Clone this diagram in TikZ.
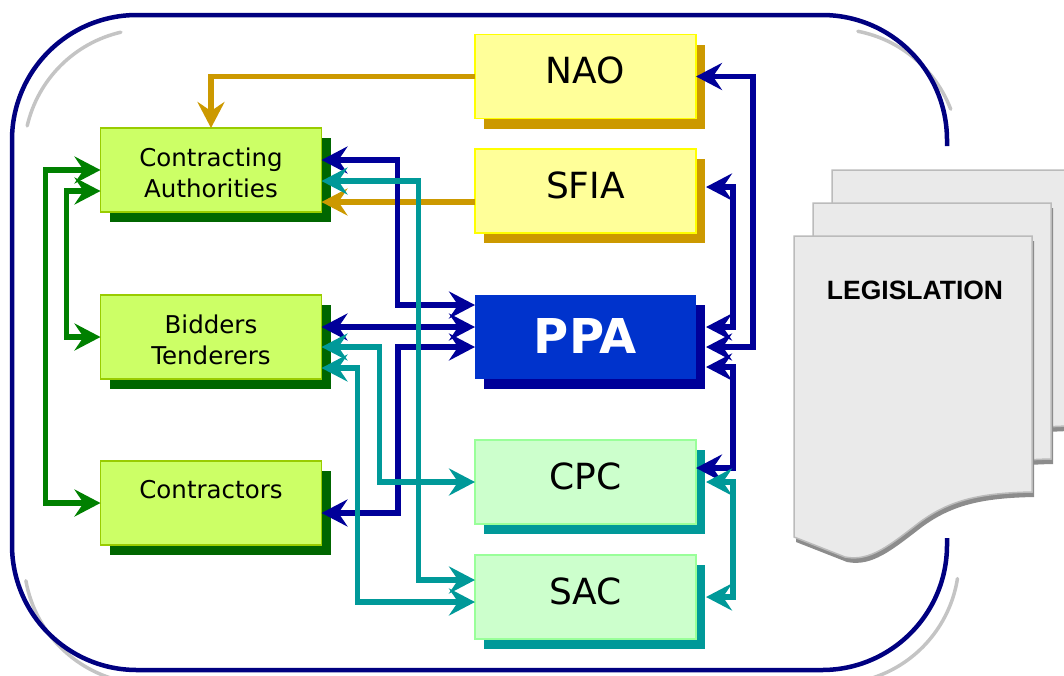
\documentclass[tikz,border=0pt]{standalone}
\usepackage{fontspec}
\setmainfont{DejaVu Sans}
\newfontfamily\legfont{Liberation Sans}
\usetikzlibrary{arrows.meta,shadows}

\definecolor{frameblue}{HTML}{000080}
\definecolor{shadegray}{HTML}{C4C4C4}
\definecolor{linkblue}{HTML}{000099}
\definecolor{linkteal}{HTML}{009999}
\definecolor{linkgold}{HTML}{CC9900}
\definecolor{linkgreen}{HTML}{008000}
\definecolor{partyfill}{HTML}{CCFF66}
\definecolor{partyedge}{HTML}{99CC00}
\definecolor{partyshade}{HTML}{006600}
\definecolor{auditfill}{HTML}{FFFF99}
\definecolor{auditedge}{HTML}{FFFF00}
\definecolor{auditshade}{HTML}{CC9900}
\definecolor{ppafill}{HTML}{0033CC}
\definecolor{ppashade}{HTML}{000099}
\definecolor{reviewfill}{HTML}{CCFFCC}
\definecolor{reviewedge}{HTML}{99FF99}
\definecolor{reviewshade}{HTML}{009999}
\definecolor{pagefill}{HTML}{EAEAEA}
\definecolor{pageedge}{HTML}{BBBBBB}
\definecolor{pageshade}{HTML}{8C8C8C}

\tikzset{
  frameline/.style={draw=frameblue, line width=4.5pt},
  frameshade/.style={draw=shadegray, line width=3.5pt, line cap=round},
  box/.style={rectangle, minimum width=221pt, minimum height=84pt,
    inner sep=0pt, outer sep=0pt, line width=1.5pt},
  boxshadow/.style={drop shadow={shadow xshift=9pt, shadow yshift=-10pt,
    fill=#1, opacity=1}},
  party/.style={box, fill=partyfill, draw=partyedge, boxshadow=partyshade},
  audit/.style={box, fill=auditfill, draw=auditedge, boxshadow=auditshade},
  agency/.style={box, fill=ppafill, boxshadow=ppashade},
  review/.style={box, fill=reviewfill, draw=reviewedge, boxshadow=reviewshade},
  smalltxt/.style={align=center, inner sep=0pt, font=\fontsize{24.5}{31}\selectfont},
  bigtxt/.style={inner sep=0pt, font=\fontsize{36}{40}\selectfont},
  ppatxt/.style={inner sep=0pt, text=white, font=\bfseries\fontsize{48}{52}\selectfont},
  legtxt/.style={inner sep=0pt, font=\legfont\bfseries\fontsize{26.5}{30}\selectfont},
  link/.style={line width=5.5pt},
  blue link/.style={link, draw=linkblue},
  teal link/.style={link, draw=linkteal},
  gold link/.style={link, draw=linkgold},
  green link/.style={link, draw=linkgreen},
  pagebody/.style={fill=pagefill, draw=pageedge, line width=1.5pt},
  sheet/.pic={
    \fill[pageshade, shift={(2,5)}] (794,236) -- (1032,236) -- (1032,492)
      .. controls (980,493) and (950,500) .. (920,522)
      .. controls (890,545) and (870,562) .. (845,557) -- (794,537) -- cycle;
    \filldraw[pagebody] (794,236) -- (1032,236) -- (1032,492)
      .. controls (980,493) and (950,500) .. (920,522)
      .. controls (890,545) and (870,562) .. (845,557) -- (794,537) -- cycle;
  }
}

\begin{document}
\begin{tikzpicture}[x=1pt, y=-1pt,
  >={Stealth[length=26pt, width=27pt, inset=9pt]}]
\useasboundingbox (0,0) rectangle (1064,675);
\clip (0,0) rectangle (1064,675);

% soft grey shadow of the rounded frame, visible at its corners
\draw[frameshade] (149,154) ++(-103:125) arc[start angle=-103, end angle=-167, radius=125];
\draw[frameshade] (834,154) ++(-79:125) arc[start angle=-79, end angle=-21, radius=125];
\draw[frameshade] (834,559) ++(9:125) arc[start angle=9, end angle=100, radius=125];
\draw[frameshade] (149,559) ++(170:125) arc[start angle=170, end angle=95, radius=125];

% rounded frame, open on the right where the legislation stack sits
\draw[frameline, rounded corners=125pt]
  (947,146) -- (947,15) -- (12,15) -- (12,670) -- (947,670) -- (947,538);

% stack of legislation sheets, back to front
\pic at (38,-66) {sheet};
\pic at (19,-33) {sheet};
\pic at (0,0) {sheet};
\node[legtxt] (leg) at (915,290) {LEGISLATION};

% parties
\node[party] (ca) at (211,170) {};
\node[party] (bt) at (211,337) {};
\node[party] (co) at (211,503) {};
\node[smalltxt] (ca-t) at ([yshift=-2.5pt]ca.center) {Contracting\\Authorities};
\node[smalltxt] (bt-t) at ([yshift=-2.5pt]bt.center) {Bidders\\Tenderers};
\node[smalltxt] (co-t) at ([yshift=13pt]co.center) {Contractors};

% oversight bodies
\node[audit] (nao) at (585.5,76.5) {};
\node[audit] (sfia) at (585.5,191) {};
\node[agency] (ppa) at (585.5,337) {};
\node[review] (cpc) at (585.5,482) {};
\node[review] (sac) at (585.5,597) {};
\node[bigtxt] (nao-t) at ([yshift=6pt]nao.center) {NAO};
\node[bigtxt] (sfia-t) at ([yshift=6pt]sfia.center) {SFIA};
\node[ppatxt] (ppa-t) at ([yshift=1pt]ppa.center) {PPA};
\node[bigtxt] (cpc-t) at ([yshift=6pt]cpc.center) {CPC};
\node[bigtxt] (sac-t) at ([yshift=6pt]sac.center) {SAC};

% links between the parties
\draw[green link, <->] (ca.west) -- ++(-55,0) |- (co.west);
\draw[green link, <->] ([yshift=-21pt]ca.west) -- ++(-34,0) |- (bt.west);

% audit reports
\draw[gold link, ->] (nao.west) -| (ca.north);
\draw[gold link, ->] ([yshift=-11pt]sfia.west) -- ([yshift=-32pt]ca.east);

% PPA links
\draw[blue link, <->] ([yshift=10pt]ca.east) -- ++(76,0) |- ([yshift=32pt]ppa.west);
\draw[blue link, <->] ([yshift=10pt]bt.east) -- ([yshift=10pt]ppa.west);
\draw[blue link, <->] ([yshift=-10pt]ppa.west) -- ++(-77,0) |- ([yshift=-10pt]co.east);
\draw[blue link, <->] (nao.east) -- ++(57,0) |- ([xshift=10pt, yshift=-10pt]ppa.east);
\draw[blue link, <->] ([xshift=10pt, yshift=4pt]sfia.east) -- ++(27,0) |- ([xshift=10pt, yshift=10pt]ppa.east);
\draw[blue link, <->] ([xshift=10pt, yshift=-30pt]ppa.east) -- ++(27,0) |- ([yshift=14pt]cpc.east);

% review bodies
\draw[teal link, <->] ([yshift=-11pt]ca.east) -- ++(97,0) |- ([yshift=17pt]sac.west);
\draw[teal link, <->] ([yshift=-10pt]bt.east) -- ++(58,0) |- (cpc.west);
\draw[teal link, <->] ([yshift=-31pt]bt.east) -- ++(36,0) |- ([yshift=-5pt]sac.west);
\draw[teal link, <->] ([xshift=10pt]cpc.east) -- ++(27,0) |- ([xshift=10pt]sac.east);
\end{tikzpicture}
\end{document}
